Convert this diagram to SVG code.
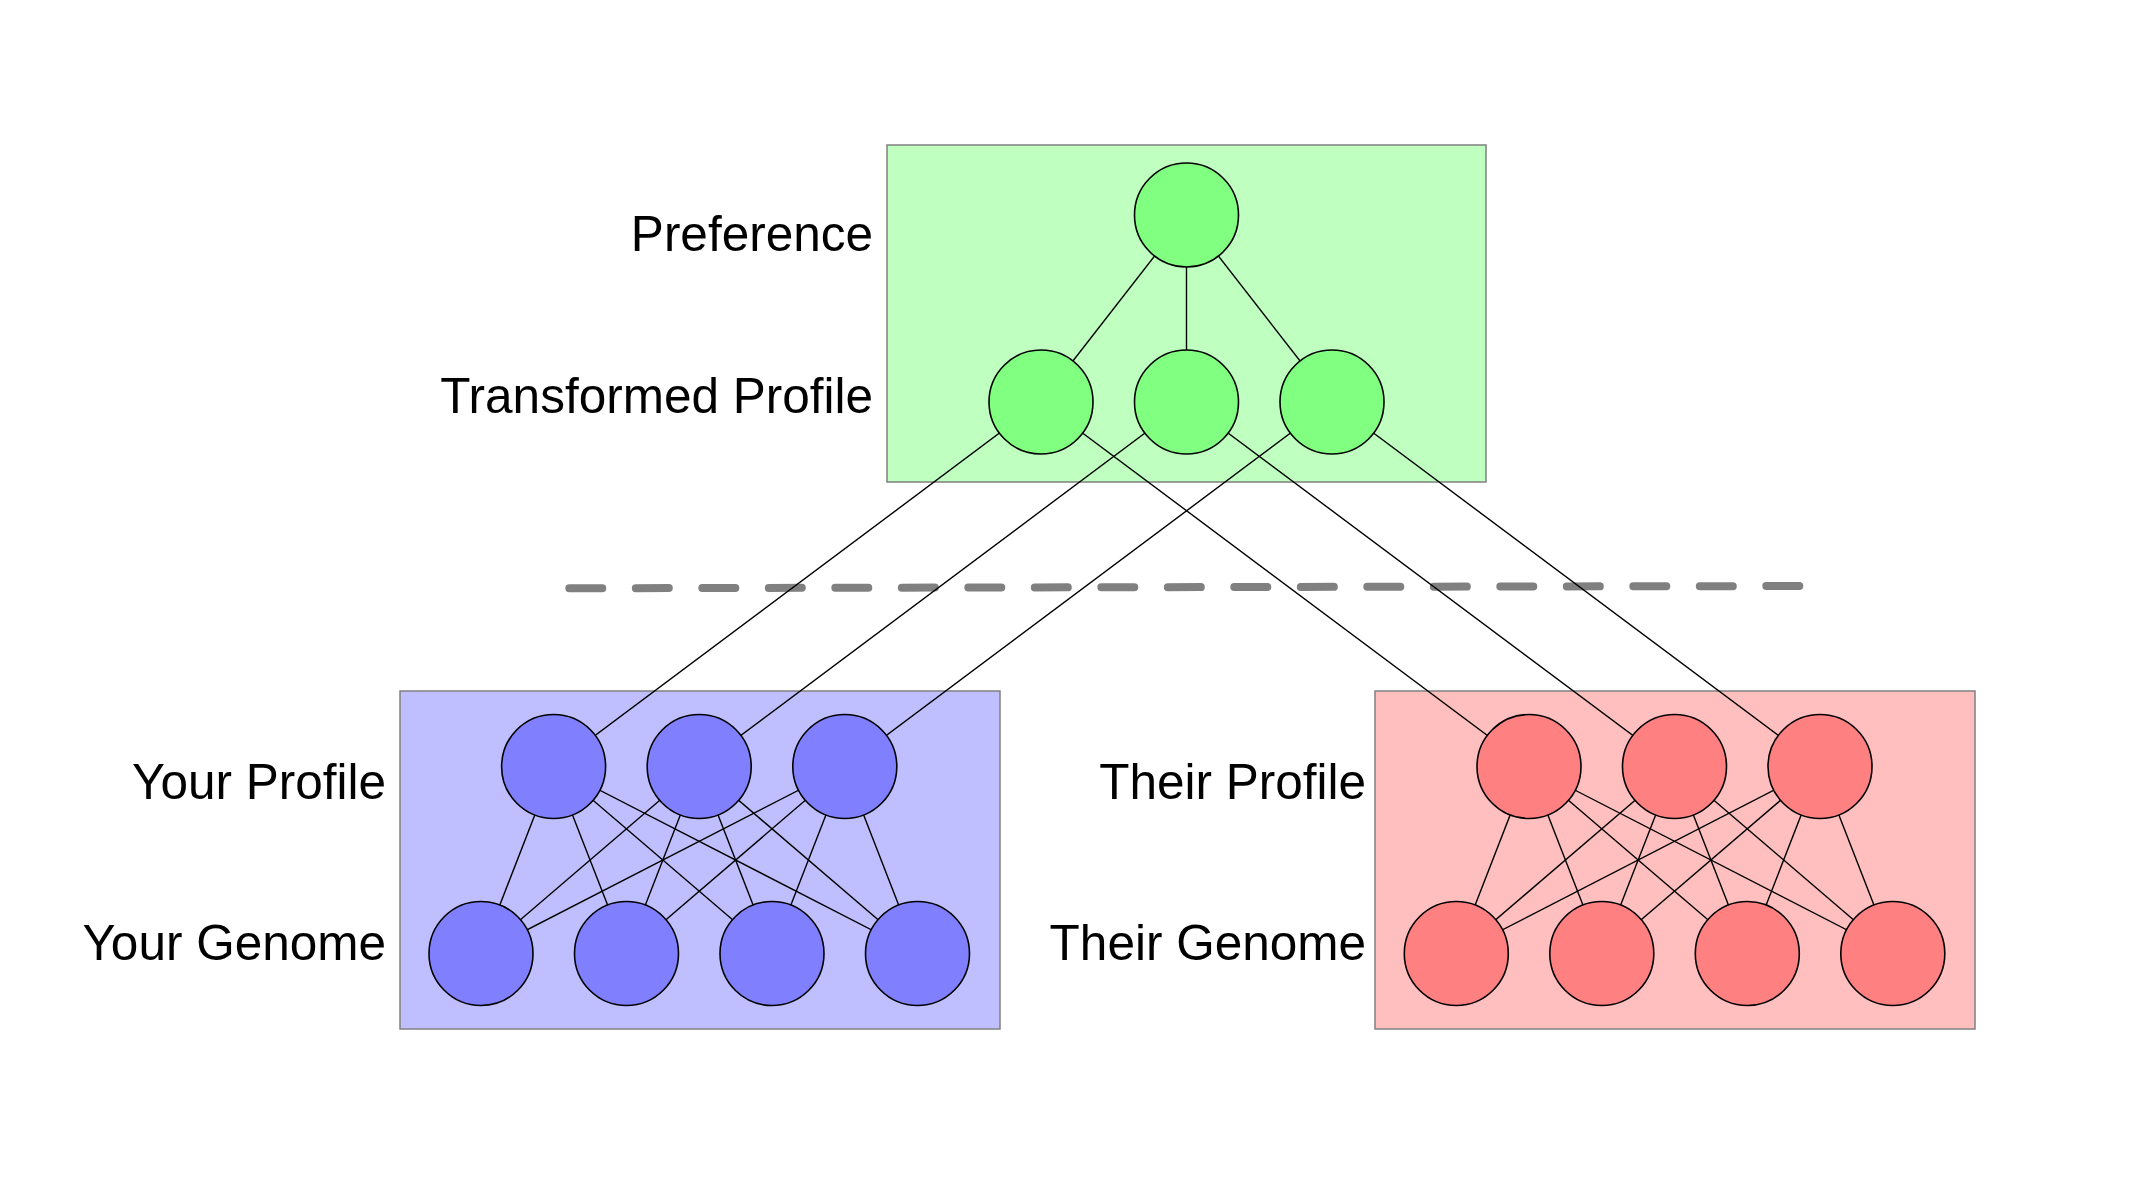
<svg xmlns="http://www.w3.org/2000/svg" width="2154" height="1179" viewBox="0 0 2154 1179">
<style>
.box{stroke:#808080;stroke-width:1.5}
.g-box{fill:#BFFFBF}
.b-box{fill:#BFBFFF}
.r-box{fill:#FFBFBF}
.n{stroke:#000;stroke-width:1.6}
.g{fill:#80FF80}
.b{fill:#8080FF}
.r{fill:#FF8080}
.lbl{font-family:"Liberation Sans",Arial,Helvetica,sans-serif;font-size:49.5px;fill:#000;text-anchor:end}
#connectors line{stroke:#000;stroke-width:1.4}
</style>
<rect width="2154" height="1179" fill="#fff"/>
<g id="box-preference"><rect class="box g-box" x="887" y="145" width="599" height="337"/></g>
<g id="box-your"><rect class="box b-box" x="400" y="691" width="600" height="338"/></g>
<g id="box-their"><rect class="box r-box" x="1375" y="691" width="600" height="338"/></g>
<line id="divider" x1="569.3" y1="588.3" x2="1799.7" y2="586" stroke="#808080" stroke-width="8" stroke-linecap="round" stroke-dasharray="33 33.5"/>
<g id="labels">
<text class="lbl" x="873" y="251">Preference</text>
<text class="lbl" x="873" y="413">Transformed Profile</text>
<text class="lbl" x="386" y="799">Your Profile</text>
<text class="lbl" x="386" y="960">Your Genome</text>
<text class="lbl" x="1366" y="799">Their Profile</text>
<text class="lbl" x="1366" y="960">Their Genome</text>
</g>
<g id="connectors">
<line x1="1186.5" y1="215" x2="1041" y2="402"/>
<line x1="1186.5" y1="215" x2="1186.5" y2="402"/>
<line x1="1186.5" y1="215" x2="1332" y2="402"/>
<line x1="1041" y1="402" x2="553.6" y2="766.5"/>
<line x1="1186.5" y1="402" x2="699.2" y2="766.5"/>
<line x1="1332" y1="402" x2="844.8" y2="766.5"/>
<line x1="1041" y1="402" x2="1529" y2="766.5"/>
<line x1="1186.5" y1="402" x2="1674.5" y2="766.5"/>
<line x1="1332" y1="402" x2="1820" y2="766.5"/>
<line x1="553.6" y1="766.5" x2="481" y2="953.5"/>
<line x1="553.6" y1="766.5" x2="626.5" y2="953.5"/>
<line x1="553.6" y1="766.5" x2="772" y2="953.5"/>
<line x1="553.6" y1="766.5" x2="917.5" y2="953.5"/>
<line x1="699.2" y1="766.5" x2="481" y2="953.5"/>
<line x1="699.2" y1="766.5" x2="626.5" y2="953.5"/>
<line x1="699.2" y1="766.5" x2="772" y2="953.5"/>
<line x1="699.2" y1="766.5" x2="917.5" y2="953.5"/>
<line x1="844.8" y1="766.5" x2="481" y2="953.5"/>
<line x1="844.8" y1="766.5" x2="626.5" y2="953.5"/>
<line x1="844.8" y1="766.5" x2="772" y2="953.5"/>
<line x1="844.8" y1="766.5" x2="917.5" y2="953.5"/>
<line x1="1529" y1="766.5" x2="1456.3" y2="953.5"/>
<line x1="1529" y1="766.5" x2="1601.8" y2="953.5"/>
<line x1="1529" y1="766.5" x2="1747.3" y2="953.5"/>
<line x1="1529" y1="766.5" x2="1892.8" y2="953.5"/>
<line x1="1674.5" y1="766.5" x2="1456.3" y2="953.5"/>
<line x1="1674.5" y1="766.5" x2="1601.8" y2="953.5"/>
<line x1="1674.5" y1="766.5" x2="1747.3" y2="953.5"/>
<line x1="1674.5" y1="766.5" x2="1892.8" y2="953.5"/>
<line x1="1820" y1="766.5" x2="1456.3" y2="953.5"/>
<line x1="1820" y1="766.5" x2="1601.8" y2="953.5"/>
<line x1="1820" y1="766.5" x2="1747.3" y2="953.5"/>
<line x1="1820" y1="766.5" x2="1892.8" y2="953.5"/>
</g>
<g id="node-pref"><circle class="n g" cx="1186.5" cy="215" r="52"/></g>
<g id="node-tp1"><circle class="n g" cx="1041" cy="402" r="52"/></g>
<g id="node-tp2"><circle class="n g" cx="1186.5" cy="402" r="52"/></g>
<g id="node-tp3"><circle class="n g" cx="1332" cy="402" r="52"/></g>
<g id="node-yp1"><circle class="n b" cx="553.6" cy="766.5" r="52"/></g>
<g id="node-yp2"><circle class="n b" cx="699.2" cy="766.5" r="52"/></g>
<g id="node-yp3"><circle class="n b" cx="844.8" cy="766.5" r="52"/></g>
<g id="node-yg1"><circle class="n b" cx="481" cy="953.5" r="52"/></g>
<g id="node-yg2"><circle class="n b" cx="626.5" cy="953.5" r="52"/></g>
<g id="node-yg3"><circle class="n b" cx="772" cy="953.5" r="52"/></g>
<g id="node-yg4"><circle class="n b" cx="917.5" cy="953.5" r="52"/></g>
<g id="node-tp-1"><circle class="n r" cx="1529" cy="766.5" r="52"/></g>
<g id="node-tp-2"><circle class="n r" cx="1674.5" cy="766.5" r="52"/></g>
<g id="node-tp-3"><circle class="n r" cx="1820" cy="766.5" r="52"/></g>
<g id="node-tg1"><circle class="n r" cx="1456.3" cy="953.5" r="52"/></g>
<g id="node-tg2"><circle class="n r" cx="1601.8" cy="953.5" r="52"/></g>
<g id="node-tg3"><circle class="n r" cx="1747.3" cy="953.5" r="52"/></g>
<g id="node-tg4"><circle class="n r" cx="1892.8" cy="953.5" r="52"/></g>
</svg>
